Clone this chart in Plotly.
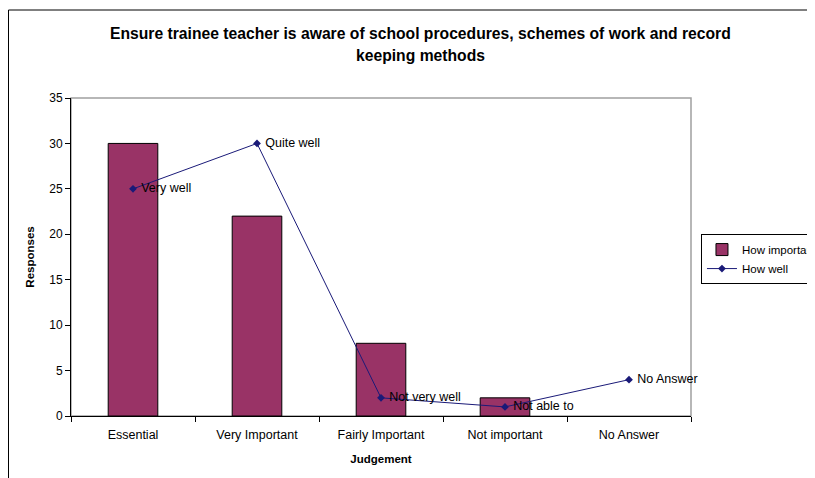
import plotly.graph_objects as go

# dados
categorias = ['Essential', 'Very Important', 'Fairly Important', 'Not important', 'No Answer']
how_important = [30, 22, 8, 2, 0]
how_well = [25, 30, 2, 1, 4]
how_well_rotulos = ['Very well', 'Quite well', 'Not very well', 'Not able to', 'No Answer']
y_ticks = [0, 5, 10, 15, 20, 25, 30, 35]
titulo = ['Ensure trainee teacher is aware of school procedures, schemes of work and record',
          'keeping methods']

fonte = 'Liberation Sans, Arial, sans-serif'
cor_barra = '#993366'
cor_linha = '#1a1a78'

fig = go.Figure()

# barras (barra de valor zero sem contorno)
fig.add_trace(go.Bar(
    x=categorias,
    y=how_important,
    name='How important',
    marker=dict(color=cor_barra,
                line=dict(color='black', width=[1 if v > 0 else 0 for v in how_important])),
))

# linha com rotulos
fig.add_trace(go.Scatter(
    x=categorias,
    y=how_well,
    name='How well',
    mode='lines+markers+text',
    text=how_well_rotulos,
    texttemplate=' %{text}',
    textposition='middle right',
    textfont=dict(family=fonte, size=12.5, color='black'),
    line=dict(color=cor_linha, width=1),
    marker=dict(symbol='diamond', size=6, color=cor_linha),
    cliponaxis=False,
))

# titulo em duas linhas (espacamento do original)
for i, linha in enumerate(titulo):
    fig.add_annotation(
        text='<b>' + linha + '</b>', xref='paper', yref='paper',
        x=0.563, y=1.204 - i * 0.069, xanchor='center', yanchor='middle',
        showarrow=False, font=dict(family=fonte, size=15.7, color='black'),
    )

# a pagina tem margem de 8px, por isso a figura e 8px menor
fig.update_layout(
    width=807, height=470,
    margin=dict(l=63, r=124, t=90, b=62),
    paper_bgcolor='white', plot_bgcolor='white',
    font=dict(family=fonte, size=11, color='black'),
    bargap=0.6,
    legend=dict(
        xref='container', yref='container',
        x=0.8587, xanchor='left', y=0.519, yanchor='top',
        bordercolor='black', borderwidth=1,
        font=dict(family=fonte, size=11.5),
        tracegroupgap=0,
    ),
    xaxis=dict(
        showline=True, linecolor='black', linewidth=1,
        ticks='outside', ticklen=5, tickcolor='black',
        tickson='boundaries', showgrid=False, automargin=False,
        ticklabelstandoff=7, tickfont=dict(size=12.5),
        title=dict(text='<b>Judgement</b>', font=dict(size=11.5), standoff=13),
    ),
    yaxis=dict(
        range=[0, 35], tickvals=y_ticks,
        showline=True, linecolor='black', linewidth=1,
        ticks='outside', ticklen=5, tickcolor='black',
        showgrid=False, zeroline=False, automargin=False,
        tickfont=dict(size=12),
        title=dict(text='<b>Responses</b>', font=dict(size=11.5), standoff=12),
    ),
    shapes=[
        # borda cinza da area do grafico
        dict(type='rect', xref='paper', yref='paper', x0=0, x1=1, y0=0, y1=1,
             line=dict(color='#a0a0a0', width=1.5), layer='below'),
        # borda externa
        dict(type='rect', xref='paper', yref='paper', x0=-0.1008, x1=1.5, y0=-0.5, y1=1.2767,
             line=dict(color='black', width=1), layer='below'),
    ],
)

fig.write_html('out.html')
